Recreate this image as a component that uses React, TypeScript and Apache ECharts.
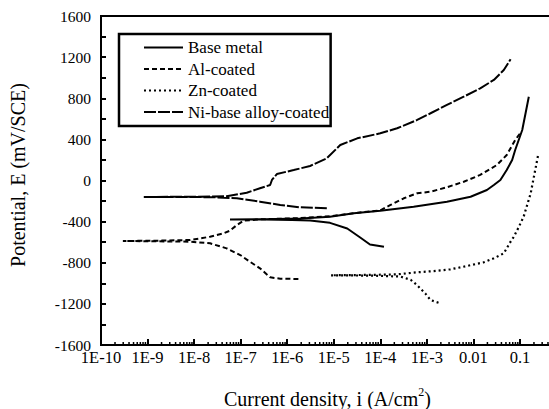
import React, { useEffect, useRef } from "react";
import * as echarts from "echarts";

// ---- Data (current density in A/cm², potential in mV vs SCE) ----
const seriesNames = ["Base metal", "Al-coated", "Zn-coated", "Ni-base alloy-coated"];

const baseI = [1.2e-4, 6.0e-5, 3.7e-5, 1.95e-5, 8.3e-6, 3.1e-6, 1.26e-6, 3.2e-7, 5.9e-8, 3.2e-7, 1.9e-6, 8.3e-6, 2.7e-5, 1.0e-4, 5.2e-4, 2.7e-3, 8.7e-3, 1.95e-2, 2.75e-2, 3.8e-2, 5.2e-2, 6.8e-2, 7.9e-2, 0.112, 0.132, 0.155];
const baseE = [-645, -622, -554, -467, -412, -390, -383, -380, -379, -376, -370, -352, -319, -294, -255, -206, -158, -92, -44, 5, 102, 199, 297, 491, 654, 815];

const alI = [1.74e-6, 7.1e-7, 4.3e-7, 2.6e-7, 1.58e-7, 9.8e-8, 5.0e-8, 2.2e-8, 8.1e-9, 1.35e-9, 2.95e-10, 1.35e-9, 8.1e-9, 2.2e-8, 4.3e-8, 5.9e-8, 8.3e-8, 1.15e-7, 2.6e-7, 1.9e-6, 8.3e-6, 2.7e-5, 1.0e-4, 1.66e-4, 3.2e-4, 6.2e-4, 1.2e-3, 2.7e-3, 6.2e-3, 1.4e-2, 3.2e-2, 5.2e-2, 7.9e-2, 0.102];
const alE = [-958, -955, -942, -854, -790, -725, -660, -611, -595, -591, -588, -586, -579, -547, -514, -488, -433, -391, -378, -366, -348, -318, -290, -238, -173, -124, -109, -66, -12, 54, 151, 248, 394, 462];

const znI = [1.78e-3, 1.2e-3, 9.3e-4, 6.2e-4, 4.5e-4, 2.7e-4, 6.3e-5, 8.7e-6, 6.3e-5, 2.3e-4, 6.2e-4, 1.4e-3, 3.2e-3, 7.2e-3, 1.66e-2, 2.75e-2, 4.5e-2, 6.3e-2, 7.4e-2, 9.5e-2, 0.12, 0.17, 0.25];
const znE = [-1189, -1163, -1100, -1019, -966, -934, -925, -922, -918, -913, -893, -881, -864, -832, -796, -757, -708, -595, -547, -450, -352, -125, 265];

const niI = [7.1e-6, 1.9e-6, 7.1e-7, 2.6e-7, 8.3e-8, 2.5e-8, 8.3e-10, 2.5e-8, 5.0e-8, 1.35e-7, 2.6e-7, 4.3e-7, 4.7e-7, 6.0e-7, 1.38e-6, 3.1e-6, 7.1e-6, 1.38e-5, 3.2e-5, 1.0e-4, 2.3e-4, 6.2e-4, 1.2e-3, 2.7e-3, 6.2e-3, 1.4e-2, 2.75e-2, 4.5e-2, 6.3e-2];
const niE = [-270, -261, -238, -206, -173, -162, -160, -156, -154, -119, -76, -44, 5, 63, 102, 141, 216, 345, 410, 459, 508, 589, 654, 735, 815, 897, 978, 1075, 1179];

// the last decade (1) lies beyond the visible right edge, as in the original
const xTickLabels = ["1E-10", "1E-9", "1E-8", "1E-7", "1E-6", "1E-5", "1E-4", "1E-3", "0.01", "0.1", ""];
const xMinorMultipliers = [2, 3, 4, 5, 6, 7, 8, 9];
const xDecades = [-10, -9, -8, -7, -6, -5, -4, -3, -2, -1];

const FONT = "Liberation Serif";

function pairs(xs: number[], ys: number[]) {
  return xs.map((x, i) => [x, ys[i]]);
}

export default function App() {
  const ref = useRef<HTMLDivElement>(null);
  useEffect(() => {
    if (!ref.current) return;
    const chart = echarts.init(ref.current, null, { renderer: "svg" });
    const minorTicks: number[][] = [];
    xDecades.forEach((d) => xMinorMultipliers.forEach((m) => minorTicks.push([m * Math.pow(10, d), -1600])));

    const lineSeries = (name: string, data: number[][], type: any, width: number) => ({
      name,
      type: "line",
      data,
      symbol: "none",
      smooth: false,
      lineStyle: { color: "#000", width, type },
      itemStyle: { color: "#000" },
      z: 3,
    });

    chart.setOption({
      animation: false,
      backgroundColor: "#fff",
      textStyle: { fontFamily: FONT, color: "#000" },
      grid: {
        left: 101,
        top: 16,
        right: -17.5,
        bottom: 64,
        outerBoundsMode: "none",
        containLabel: false,
        show: true,
        borderColor: "#000",
        borderWidth: 2,
        backgroundColor: "transparent",
      },
      legend: {
        data: seriesNames,
        orient: "vertical",
        left: 119,
        top: 34,
        itemWidth: 39,
        itemHeight: 14,
        itemGap: 4.5,
        padding: [5, 1.5, 5.5, 24],
        borderColor: "#000",
        borderWidth: 2.5,
        backgroundColor: "#fff",
        itemStyle: { opacity: 0, borderWidth: 0 },
        textStyle: { color: "#000", fontFamily: FONT, fontSize: 17 },
        selectedMode: false,
      },
      xAxis: {
        type: "log",
        logBase: 10,
        min: 1e-10,
        max: 1,
        interval: 1,
        axisLine: { onZero: false, lineStyle: { color: "#000", width: 2 } },
        axisTick: { inside: true, length: 6, lineStyle: { color: "#000", width: 2 } },
        splitLine: { show: false },
        axisLabel: {
          color: "#000",
          fontFamily: FONT,
          fontSize: 16.5,
          margin: 4,
          interval: 0,
          formatter: (v: number) => xTickLabels[Math.round(Math.log10(v)) + 10] ?? "",
        },
      },
      yAxis: {
        type: "value",
        min: -1600,
        max: 1600,
        interval: 400,
        axisLine: { onZero: false, lineStyle: { color: "#000", width: 2 } },
        axisTick: { inside: true, length: 5, lineStyle: { color: "#000", width: 2 } },
        minorTick: { show: true, splitNumber: 2, length: 5, lineStyle: { color: "#000", width: 2 } },
        splitLine: { show: false },
        axisLabel: {
          color: "#000",
          fontFamily: FONT,
          fontSize: 15.5,
          margin: 10,
          formatter: (v: number) => String(v),
        },
      },
      graphic: [
        {
          type: "text",
          left: 224,
          top: 386,
          style: {
            text: "{a|Current density, i (A/cm}{s|2}{a|)}",
            rich: {
              a: { fontFamily: FONT, fontSize: 20, fill: "#000", verticalAlign: "bottom", lineHeight: 23 },
              s: { fontFamily: FONT, fontSize: 12, fill: "#000", verticalAlign: "top", lineHeight: 23 },
            },
          },
        },
        {
          type: "text",
          x: 18,
          y: 175,
          rotation: Math.PI / 2,
          style: {
            text: "Potential, E (mV/SCE)",
            fontFamily: FONT,
            fontSize: 20,
            fill: "#000",
            align: "center",
            verticalAlign: "middle",
          },
        },
      ],
      series: [
        lineSeries(seriesNames[0], pairs(baseI, baseE), "solid", 2),
        lineSeries(seriesNames[1], pairs(alI, alE), [5, 3], 2),
        lineSeries(seriesNames[2], pairs(znI, znE), [2, 3], 2.2),
        lineSeries(seriesNames[3], pairs(niI, niE), [12, 2], 2),
        {
          type: "custom",
          name: "minorTicks",
          silent: true,
          data: minorTicks,
          clip: false,
          z: 4,
          renderItem: (params: any, api: any) => {
            const p = api.coord([api.value(0), api.value(1)]);
            return {
              type: "line",
              shape: { x1: p[0], y1: p[1], x2: p[0], y2: p[1] - 3 },
              style: { stroke: "#000", lineWidth: 1.5 },
            };
          },
        },
      ],
    });
    return () => chart.dispose();
  }, []);
  return <div ref={ref} style={{ position: "absolute", left: 0, top: 0, width: 549, height: 409 }} />;
}
